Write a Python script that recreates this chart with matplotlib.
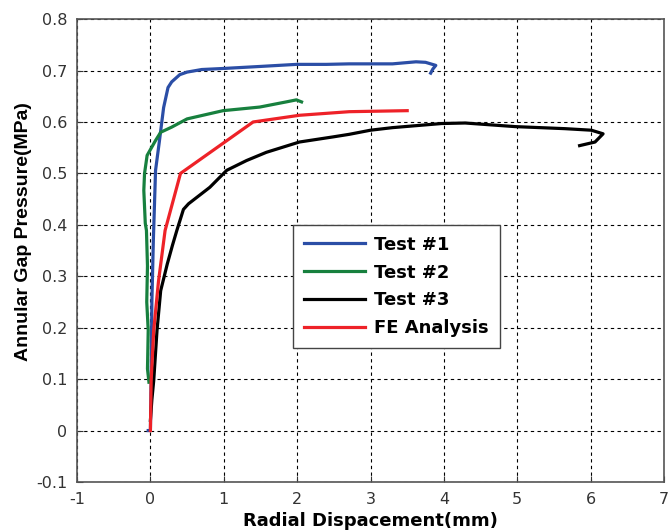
import matplotlib

matplotlib.use("Agg")

import matplotlib.pyplot as plt

plt.rcParams["font.family"] = ["DejaVu Sans"]

# Test #1 (blue)
test1_x = [-0.03, 0.0, 0.01, 0.02, 0.04, 0.07, 0.12, 0.18, 0.24, 0.29, 0.4, 0.5, 0.7,
           0.99, 1.5, 1.99, 2.4, 2.71, 3.0, 3.3, 3.62, 3.75, 3.89, 3.85, 3.82]
test1_y = [0.0, 0.0, 0.1, 0.25, 0.37, 0.506, 0.56, 0.628, 0.667, 0.678, 0.692, 0.697, 0.702,
           0.704, 0.708, 0.712, 0.712, 0.713, 0.713, 0.713, 0.717, 0.716, 0.71, 0.703, 0.695]

# Test #2 (green)
test2_x = [-0.02, -0.04, -0.03, -0.05, -0.04, -0.054, -0.07, -0.09, -0.08, -0.045, 0.07, 0.14,
           0.29, 0.5, 0.99, 1.49, 1.85, 1.99, 2.06]
test2_y = [0.094, 0.12, 0.195, 0.25, 0.32, 0.389, 0.403, 0.467, 0.5, 0.535, 0.564, 0.58,
           0.59, 0.606, 0.622, 0.629, 0.639, 0.643, 0.639]

# Test #3 (black)
test3_x = [0.0, 0.02, 0.045, 0.09, 0.14, 0.23, 0.3, 0.36, 0.45, 0.52, 0.81, 1.04, 1.31, 1.58,
           2.03, 2.49, 2.71, 3.0, 3.3, 3.97, 4.29, 4.97, 5.65, 6.01, 6.17, 6.06, 5.85]
test3_y = [0.02, 0.06, 0.097, 0.195, 0.272, 0.324, 0.36, 0.389, 0.43, 0.441, 0.473, 0.506,
           0.525, 0.541, 0.561, 0.571, 0.576, 0.584, 0.589, 0.597, 0.598, 0.591, 0.587, 0.584,
           0.577, 0.561, 0.554]

# FE Analysis (red)
fe_x = [0.0, 0.01, 0.045, 0.11, 0.2, 0.41, 1.4, 2.03, 2.71, 3.5]
fe_y = [0.0, 0.097, 0.195, 0.29, 0.389, 0.5, 0.6, 0.613, 0.62, 0.622]

x_ticks = [-1, 0, 1, 2, 3, 4, 5, 6, 7]
y_ticks = [-0.1, 0, 0.1, 0.2, 0.3, 0.4, 0.5, 0.6, 0.7, 0.8]
y_tick_labels = ["-0.1", "0", "0.1", "0.2", "0.3", "0.4", "0.5", "0.6", "0.7", "0.8"]

fig = plt.figure(figsize=(6.7, 5.31), dpi=100)
ax = fig.add_axes([0.115, 0.0923, 0.876, 0.8717])

lw = 2.3
ax.plot(test1_x, test1_y, color="#2b4ea6", lw=lw, label="Test #1", zorder=3)
ax.plot(test2_x, test2_y, color="#17803e", lw=lw, label="Test #2", zorder=3)
ax.plot(test3_x, test3_y, color="black", lw=lw, label="Test #3", zorder=3)
ax.plot(fe_x, fe_y, color="#ee2228", lw=lw, label="FE Analysis", zorder=4)

ax.set_xlim(-1, 7)
ax.set_ylim(-0.1, 0.8)
ax.set_xticks(x_ticks)
ax.set_xticklabels([str(v) for v in x_ticks])
ax.set_yticks(y_ticks)
ax.set_yticklabels(y_tick_labels)
ax.tick_params(direction="in", length=4, labelsize=11.5, colors="#333333", width=0.8)
ax.tick_params(axis="x", pad=7)
ax.tick_params(axis="y", pad=7)

ax.grid(True, color="black", linestyle=(0, (3, 3)), linewidth=0.8)
for spine in ax.spines.values():
    spine.set_color("#555555")
    spine.set_linewidth(1.2)

ax.set_xlabel("Radial Dispacement(mm)", fontsize=13, fontweight="bold", labelpad=4)
ax.set_ylabel("Annular Gap Pressure(MPa)", fontsize=14, fontweight="bold",
              family=["Liberation Sans", "DejaVu Sans"])
ax.yaxis.set_label_coords(-0.076, 0.54)

leg = ax.legend(loc="lower left", bbox_to_anchor=(0.368, 0.289), borderaxespad=0,
                prop={"weight": "bold", "size": 13}, frameon=True, fancybox=False,
                handlelength=3.4, borderpad=0.6, labelspacing=0.55, handletextpad=0.5)
leg.get_frame().set_edgecolor("#444444")
leg.get_frame().set_linewidth(1.0)
leg.get_frame().set_alpha(1.0)

fig.savefig("out.png", dpi=100)
